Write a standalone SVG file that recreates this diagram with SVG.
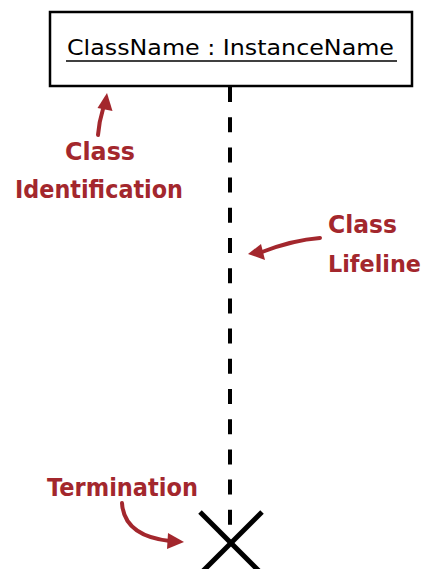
<svg xmlns="http://www.w3.org/2000/svg" width="429" height="569" viewBox="0 0 429 569">
  <style>
    .box { fill: #ffffff; stroke: #000000; stroke-width: 2.5; }
    .name { font-family: "DejaVu Sans", "Liberation Sans", sans-serif; font-size: 22px; fill: #000000; }
    .label { font-family: "DejaVu Sans", "Liberation Sans", sans-serif; font-weight: bold; font-size: 25px; fill: #a3272d; }
    .label.tight { font-size: 23px; }
    .lifeline { stroke: #000000; stroke-width: 4; stroke-dasharray: 15 15.2; fill: none; }
    .cross { stroke: #000000; stroke-width: 5; fill: none; }
    .pointer { stroke: #a3272d; stroke-width: 4; fill: none; stroke-linecap: round; }
    .head { fill: #a3272d; }
  </style>
  <rect width="429" height="569" fill="#ffffff"/>

  <!-- object box -->
  <g id="instance">
    <rect class="box" x="50" y="12" width="362" height="74"/>
    <text class="name" x="67" y="55" textLength="327" lengthAdjust="spacingAndGlyphs">ClassName : InstanceName</text>
    <line x1="66" y1="61" x2="397" y2="61" stroke="#000000" stroke-width="1.6"/>
  </g>

  <!-- lifeline and its end -->
  <g id="connectors">
    <line class="lifeline" x1="230" y1="87" x2="230" y2="527"/>
  </g>
  <g id="termination">
    <line class="cross" x1="200" y1="512" x2="262" y2="574"/>
    <line class="cross" x1="262" y1="512" x2="200" y2="574"/>
  </g>

  <!-- annotations -->
  <g id="label-identification">
    <text class="label" x="65" y="160" textLength="70" lengthAdjust="spacingAndGlyphs">Class</text>
    <text class="label" x="15" y="198" textLength="168" lengthAdjust="spacingAndGlyphs">Identification</text>
    <path class="pointer" d="M98 135 Q99 122 103 109"/>
    <polygon class="head" points="107,93 112.5,111 97.5,108"/>
  </g>

  <g id="label-lifeline">
    <text class="label" x="328" y="233" textLength="69" lengthAdjust="spacingAndGlyphs">Class</text>
    <text class="label tight" x="328" y="272" textLength="93" lengthAdjust="spacingAndGlyphs">Lifeline</text>
    <path class="pointer" d="M320 238 Q293 240 262 252"/>
    <polygon class="head" points="248,254 261,244 265,260"/>
  </g>

  <g id="label-termination">
    <text class="label" x="47" y="496" textLength="151" lengthAdjust="spacingAndGlyphs">Termination</text>
    <path class="pointer" d="M122 503 Q124 536 170 541"/>
    <polygon class="head" points="184,542 168,533 167,549"/>
  </g>
</svg>
